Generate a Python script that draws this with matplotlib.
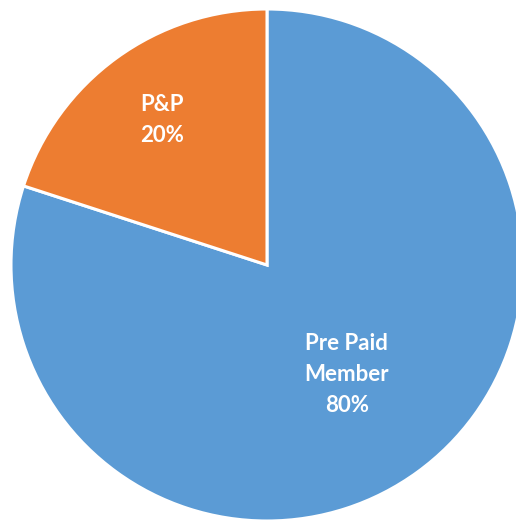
import numpy as np
import matplotlib
matplotlib.use("Agg")
import matplotlib.pyplot as plt

# data
categories = ["Pre Paid\nMember", "P&P"]
shares = [80, 20]
colors = ["#5B9BD5", "#ED7D31"]
label_dist = [0.53, 0.70]

plt.rcParams['font.family'] = ['Lato', 'DejaVu Sans']

fig = plt.figure(figsize=(5.16, 5.20), dpi=100)
# pie centre sits at about (267, 265) px, radius ~256 px
ax = fig.add_axes([11 / 516, -1 / 520, 512 / 516, 512 / 520])

wedges, _ = ax.pie(shares, colors=colors, startangle=90, counterclock=False,
                   wedgeprops=dict(edgecolor="white", linewidth=2.2))
ax.set_xlim(-1, 1)
ax.set_ylim(-1, 1)
ax.set_aspect("equal")
ax.axis("off")

# labels in the middle of each slice
for w, name, val, d in zip(wedges, categories, shares, label_dist):
    mid = np.deg2rad((w.theta1 + w.theta2) / 2)
    ax.text(d * np.cos(mid), d * np.sin(mid), f"{name}\n{val}%",
            ha="center", va="center", color="white", fontsize=16,
            fontweight="bold", linespacing=1.6)

fig.savefig("out.png", dpi=100)
